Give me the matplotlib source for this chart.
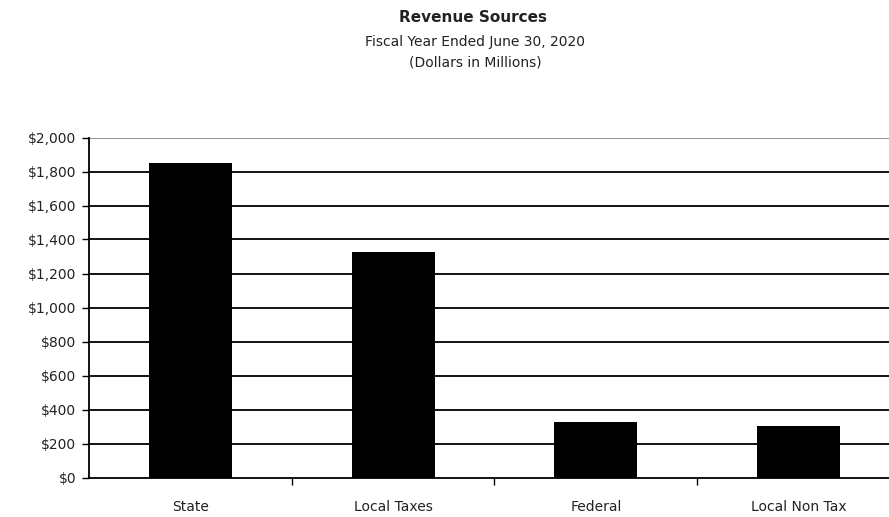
import matplotlib.pyplot as plt
from matplotlib.ticker import FuncFormatter

categories = ["State", "Local Taxes", "Federal", "Local Non Tax"]
revenue = [1852, 1326, 328, 305]
yticks = [0, 200, 400, 600, 800, 1000, 1200, 1400, 1600, 1800, 2000]

plt.rcParams['font.family'] = ['DejaVu Sans']

fig = plt.figure(figsize=(8.89, 5.17), dpi=100)
# axes runs past the right edge like the original screenshot
ax = fig.add_axes([89 / 889, 1 - 477.5 / 517, 811 / 889, 340 / 517])

x = range(len(categories))
ax.bar(x, revenue, width=0.41, color="black", zorder=3)

ax.set_xlim(-0.5, 3.5)
ax.set_ylim(0, 2000)
ax.set_yticks(yticks)
ax.yaxis.set_major_formatter(FuncFormatter(lambda v, p: "${:,.0f}".format(v)))
for v in yticks[1:-1]:
    ax.axhline(v, color="black", lw=1.3, zorder=1)
ax.axhline(2000, color="#999999", lw=1.5, zorder=1)

ax.set_xticks([0.5, 1.5, 2.5])
ax.set_xticklabels([])
ax.set_xticks(list(x), minor=True)
ax.set_xticklabels(categories, minor=True)
ax.tick_params(axis="x", which="minor", length=0, pad=16, labelsize=10, labelcolor="#222222")
ax.tick_params(axis="x", which="major", length=5, width=1, direction="out")
ax.tick_params(axis="y", length=5, width=1, labelsize=10, pad=4, labelcolor="#222222")

for s in ["top", "right"]:
    ax.spines[s].set_visible(False)
ax.spines["left"].set_linewidth(1.3)
ax.spines["bottom"].set_linewidth(1.3)

fig.text(473 / 889, 1 - 18 / 517, "Revenue Sources", ha="center", va="center",
         fontsize=11, fontweight="bold", color="#222222")
fig.text(475 / 889, 1 - 42 / 517, "Fiscal Year Ended June 30, 2020", ha="center",
         va="center", fontsize=10, color="#222222")
fig.text(475 / 889, 1 - 62 / 517, "(Dollars in Millions)", ha="center",
         va="center", fontsize=10, color="#222222")

fig.savefig("out.png", dpi=100)
